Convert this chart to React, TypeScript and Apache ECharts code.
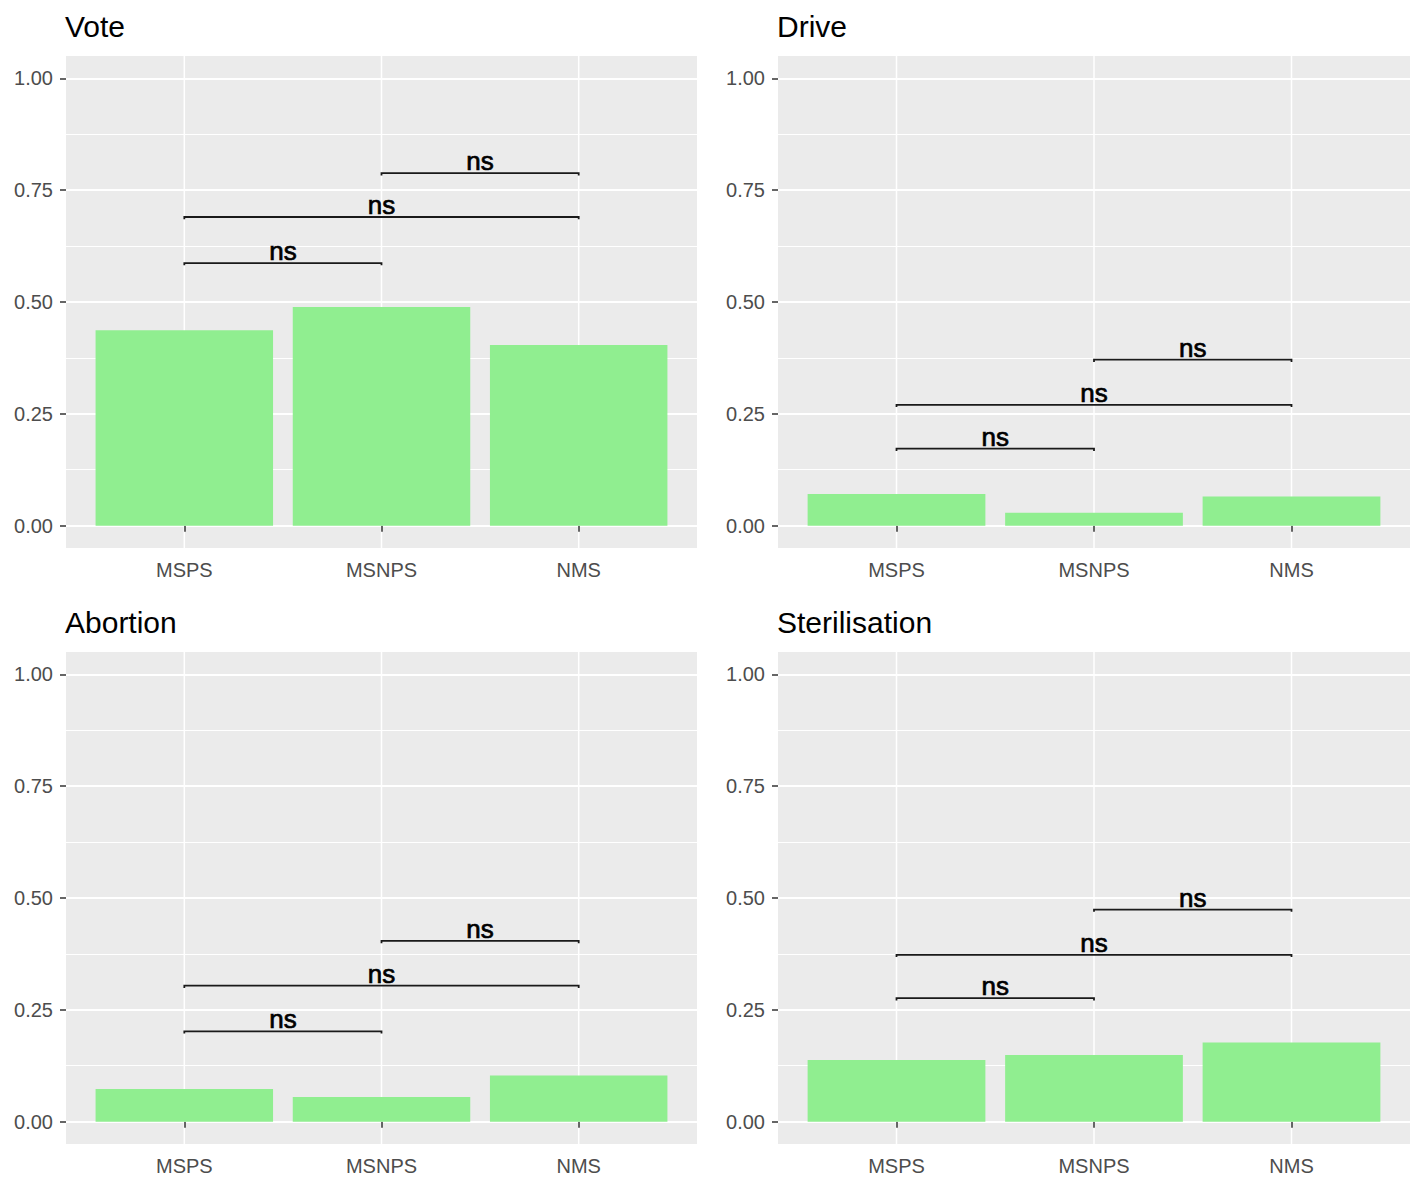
import React, { useEffect, useRef } from 'react';
import * as echarts from 'echarts';

const categories = ['MSPS', 'MSNPS', 'NMS'];
const panelTitles = ['Vote', 'Drive', 'Abortion', 'Sterilisation'];

const voteValues = [0.437, 0.489, 0.404];
const driveValues = [0.071, 0.029, 0.065];
const abortionValues = [0.073, 0.055, 0.103];
const sterilisationValues = [0.138, 0.149, 0.177];

const bracketStarts = [0, 0, 1];
const bracketEnds = [1, 2, 2];
const voteBracketY = [0.587, 0.69, 0.788];
const driveBracketY = [0.172, 0.27, 0.371];
const abortionBracketY = [0.202, 0.304, 0.404];
const sterilisationBracketY = [0.276, 0.373, 0.474];
const significanceLabels = ['ns', 'ns', 'ns'];

const panelValues = [voteValues, driveValues, abortionValues, sterilisationValues];
const panelBrackets = [voteBracketY, driveBracketY, abortionBracketY, sterilisationBracketY];

const FONT = '"Liberation Sans", Arial, Helvetica, sans-serif';
const PANEL_H = 492;
const panelBoxes = [
  { left: 66, top: 56, width: 631, titleTop: 6 },
  { left: 778, top: 56, width: 632, titleTop: 6 },
  { left: 66, top: 652, width: 631, titleTop: 602 },
  { left: 778, top: 652, width: 632, titleTop: 602 },
];

function buildOption() {
  const grid: any[] = [];
  const xAxis: any[] = [];
  const yAxis: any[] = [];
  const series: any[] = [];
  const title: any[] = [];

  panelBoxes.forEach((b, k) => {
    const yTop = b.top + (0.05 / 1.1) * PANEL_H;
    const yH = PANEL_H / 1.1;
    const xLeft = b.left + b.width / 32;
    const xW = (b.width * 3) / 3.2;

    title.push({
      text: panelTitles[k],
      left: b.left - 6,
      top: b.titleTop,
      textStyle: { fontSize: 30, fontWeight: 'normal', color: '#000', fontFamily: FONT },
    });

    // panel background
    grid.push({ left: b.left, top: b.top, width: b.width, height: PANEL_H, show: true, backgroundColor: '#EBEBEB', borderWidth: 0, z: 0 });
    // y scale grid
    grid.push({ left: b.left, top: yTop, width: b.width, height: yH, show: false, z: 1 });
    // x category grid
    grid.push({ left: xLeft, top: b.top, width: xW, height: PANEL_H, show: false, z: 1 });

    const g0 = k * 3;
    xAxis.push({ type: 'value', gridIndex: g0, show: false, min: 0, max: 1 });
    yAxis.push({ type: 'value', gridIndex: g0, show: false, min: 0, max: 1 });

    xAxis.push({ type: 'value', gridIndex: g0 + 1, show: false, min: 0, max: 1 });
    yAxis.push({
      type: 'value',
      gridIndex: g0 + 1,
      min: 0,
      max: 1,
      interval: 0.25,
      z: 2,
      axisLine: { show: false },
      axisTick: { show: true, length: 6, lineStyle: { color: '#333333', width: 1.5 } },
      axisLabel: {
        formatter: (v: number) => v.toFixed(2),
        fontSize: 20,
        color: '#4D4D4D',
        fontFamily: FONT,
        margin: 13,
      },
      splitLine: { show: true, lineStyle: { color: '#FFFFFF', width: 2 } },
      minorTick: { show: false, splitNumber: 2 },
      minorSplitLine: { show: true, lineStyle: { color: '#FFFFFF', width: 1 } },
    });

    xAxis.push({
      type: 'category',
      gridIndex: g0 + 2,
      data: categories,
      z: 2,
      axisLine: { show: false },
      axisTick: { show: true, alignWithLabel: true, length: 6, lineStyle: { color: '#333333', width: 1.5 } },
      axisLabel: { fontSize: 20, color: '#4D4D4D', fontFamily: FONT, margin: 12 },
      splitLine: { show: false },
    });
    yAxis.push({ type: 'value', gridIndex: g0 + 2, show: false, min: -0.05, max: 1.05 });

    // vertical major gridlines at category positions
    series.push({
      type: 'custom',
      xAxisIndex: g0 + 2,
      yAxisIndex: g0 + 2,
      silent: true,
      z: 1,
      encode: { x: 0, y: 1 },
      data: categories.map((_, i) => [i, 0]),
      renderItem: (params: any, api: any) => {
        const x = api.coord([api.value(0), 0])[0];
        const cs = params.coordSys;
        return {
          type: 'line',
          shape: { x1: x, y1: cs.y, x2: x, y2: cs.y + cs.height },
          style: { stroke: '#FFFFFF', lineWidth: 1.5 },
        };
      },
    });

    series.push({
      type: 'bar',
      xAxisIndex: g0 + 2,
      yAxisIndex: g0 + 2,
      data: panelValues[k],
      barWidth: '90%',
      z: 3,
      itemStyle: { color: '#90EE90' },
      silent: true,
    });

    const ys = panelBrackets[k];
    series.push({
      type: 'custom',
      xAxisIndex: g0 + 2,
      yAxisIndex: g0 + 2,
      silent: true,
      z: 4,
      encode: { x: [0, 1], y: 2 },
      data: bracketStarts.map((s, j) => [s, bracketEnds[j], ys[j], j]),
      renderItem: (params: any, api: any) => {
        const s = api.value(0);
        const e = api.value(1);
        const y = api.value(2);
        const j = api.value(3);
        const tip = 0.005;
        const p1 = api.coord([s, y - tip]);
        const p2 = api.coord([s, y]);
        const p3 = api.coord([e, y]);
        const p4 = api.coord([e, y - tip]);
        return {
          type: 'group',
          children: [
            {
              type: 'polyline',
              shape: { points: [p1, p2, p3, p4] },
              style: { stroke: '#1A1A1A', lineWidth: 1.8, fill: 'none' },
            },
            {
              type: 'text',
              style: {
                text: significanceLabels[j],
                x: (p2[0] + p3[0]) / 2,
                y: p2[1] + 1,
                align: 'center',
                verticalAlign: 'bottom',
                fontSize: 26,
                fontFamily: FONT,
                fill: '#000000',
                stroke: '#000000',
                lineWidth: 0.7,
              },
            },
          ],
        };
      },
    });
  });

  return {
    animation: false,
    backgroundColor: '#FFFFFF',
    title,
    grid,
    xAxis,
    yAxis,
    series,
  };
}

export default function App() {
  const ref = useRef<HTMLDivElement>(null);
  useEffect(() => {
    if (!ref.current) return;
    const chart = echarts.init(ref.current, undefined, { renderer: 'svg' });
    chart.setOption(buildOption() as any);
    return () => chart.dispose();
  }, []);
  return (
    <div
      ref={ref}
      style={{ position: 'absolute', left: 0, top: 0, width: 1417, height: 1191, background: '#FFFFFF' }}
    />
  );
}
